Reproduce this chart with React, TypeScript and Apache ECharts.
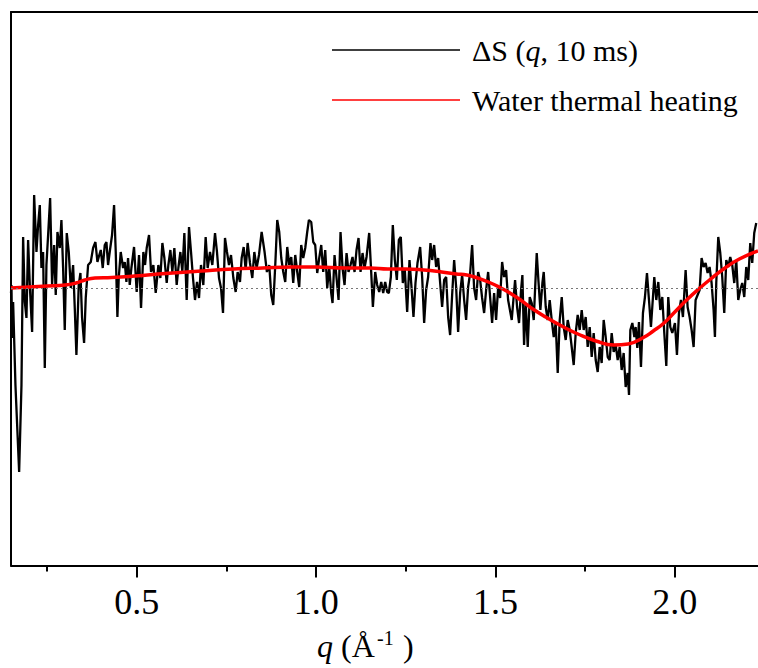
import React, { useEffect, useRef } from "react";
import * as echarts from "echarts";

const FONT = "'Liberation Serif', 'Times New Roman', serif";

// Measured ΔS(q, 10 ms) signal
const qSignal = [
  0.1490, 0.1503, 0.1521, 0.1549, 0.1614, 0.1717, 0.1782, 0.1828, 0.1875, 0.1921, 0.1967, 0.2014, 0.2079, 0.2135, 0.2200,
  0.2246, 0.2293, 0.2339, 0.2385, 0.2432, 0.2478, 0.2525, 0.2581, 0.2636, 0.2692, 0.2738, 0.2785, 0.2850, 0.2896,
  0.2943, 0.2989, 0.3045, 0.3101, 0.3157, 0.3222, 0.3268, 0.3314, 0.3379, 0.3426, 0.3472, 0.3528, 0.3574, 0.3640,
  0.3714, 0.3779, 0.3844, 0.3900, 0.3937, 0.3993, 0.4048, 0.4104, 0.4151, 0.4197, 0.4243, 0.4308, 0.4364, 0.4411,
  0.4457, 0.4494, 0.4550, 0.4615, 0.4662, 0.4708, 0.4754, 0.4801, 0.4847, 0.4921,
  0.4995, 0.5060, 0.5116, 0.5181, 0.5228, 0.5274, 0.5339, 0.5395, 0.5460, 0.5525, 0.5599, 0.5655, 0.5711, 0.5767,
  0.5832, 0.5878, 0.5934, 0.5989, 0.6045, 0.6110, 0.6157, 0.6212, 0.6268, 0.6324, 0.6389, 0.6454, 0.6510, 0.6565,
  0.6621, 0.6677, 0.6733, 0.6788, 0.6853, 0.6918, 0.6974, 0.7039, 0.7104, 0.7179, 0.7234, 0.7290, 0.7346, 0.7402,
  0.7457, 0.7513, 0.7569, 0.7625, 0.7690, 0.7755, 0.7810, 0.7875, 0.7922, 0.7978, 0.8033, 0.8089, 0.8154, 0.8219,
  0.8275, 0.8340, 0.8405, 0.8479,
  0.8561, 0.8626, 0.8691, 0.8747, 0.8803, 0.8859, 0.8914, 0.8970, 0.9026, 0.9082, 0.9137, 0.9193, 0.9249, 0.9305,
  0.9360, 0.9416, 0.9472, 0.9527, 0.9583, 0.9639, 0.9695, 0.9750, 0.9797, 0.9862, 0.9918, 0.9973, 1.0029, 1.0085,
  1.0141, 1.0196, 1.0252, 1.0308, 1.0364, 1.0419, 1.0456, 1.0512, 1.0568, 1.0624, 1.0679, 1.0735, 1.0791, 1.0847,
  1.0902, 1.0958, 1.1014, 1.1070, 1.1125, 1.1181, 1.1237, 1.1293, 1.1348, 1.1404, 1.1478, 1.1534, 1.1581, 1.1646,
  1.1701, 1.1757, 1.1813, 1.1869, 1.1924, 1.1980,
  1.2026, 1.2082, 1.2137, 1.2193, 1.2249, 1.2305, 1.2360, 1.2416, 1.2472, 1.2537, 1.2602, 1.2658, 1.2713, 1.2769,
  1.2825, 1.2899, 1.2955, 1.3011, 1.3066, 1.3122, 1.3187, 1.3234, 1.3289, 1.3345, 1.3401, 1.3457, 1.3512, 1.3568,
  1.3624, 1.3680, 1.3735, 1.3791, 1.3847, 1.3903, 1.3958, 1.4014, 1.4070, 1.4126, 1.4181, 1.4237, 1.4293, 1.4349,
  1.4404, 1.4460, 1.4516, 1.4572, 1.4627, 1.4683, 1.4739, 1.4795, 1.4850, 1.4906, 1.4962, 1.5017, 1.5073, 1.5129,
  1.5185, 1.5240, 1.5296, 1.5352,
  1.5453, 1.5499, 1.5546, 1.5602, 1.5657, 1.5713, 1.5750, 1.5797, 1.5843, 1.5899, 1.5955, 1.6010, 1.6066, 1.6103,
  1.6150, 1.6196, 1.6252, 1.6308, 1.6345, 1.6401, 1.6456, 1.6512, 1.6568, 1.6624, 1.6679, 1.6735, 1.6791, 1.6847,
  1.6902, 1.6958, 1.7014, 1.7070, 1.7125, 1.7181, 1.7237, 1.7292, 1.7348, 1.7404, 1.7460, 1.7515, 1.7571, 1.7627,
  1.7683, 1.7738, 1.7794, 1.7850, 1.7906, 1.7961, 1.8017, 1.8073, 1.8129, 1.8184, 1.8240, 1.8296, 1.8352, 1.8407,
  1.8463, 1.8519, 1.8574, 1.8630, 1.8686, 1.8723, 1.8760, 1.8816, 1.8872,
  1.8908, 1.8954, 1.9001, 1.9057, 1.9112, 1.9168, 1.9224, 1.9280, 1.9335, 1.9391, 1.9428, 1.9484, 1.9540, 1.9595,
  1.9651, 1.9707, 1.9763, 1.9818, 1.9874, 1.9930, 2.0004, 2.0060, 2.0116, 2.0171, 2.0227, 2.0302, 2.0357, 2.0413,
  2.0469, 2.0525, 2.0580, 2.0636, 2.0692, 2.0747, 2.0803, 2.0859, 2.0915, 2.0970, 2.1026, 2.1082, 2.1119, 2.1156,
  2.1212, 2.1268, 2.1323, 2.1379, 2.1435, 2.1491, 2.1546, 2.1602, 2.1658, 2.1714, 2.1769, 2.1825, 2.1881, 2.1937,
  2.1992, 2.2048, 2.2104, 2.2159, 2.2215, 2.2271,
];

const dsSignal = [
  -0.05, 0.03, -0.50, -0.14, -0.97, -1.84, -0.97, 0.51, -0.14, -0.30, 0.48, 0.03, -0.44, 0.93, 0.36,
  0.63, 0.83, 0.20, 0.36, -0.80, 0.23, 0.53, 0.90, 0.03, 0.43, -0.07, 0.56, 0.40, 0.68,
  0.20, -0.42, 0.55, 0.36, 0.00, 0.23, -0.20, -0.67, 0.03, 0.15, -0.30, -0.55, -0.10, 0.23,
  0.26, 0.40, 0.46, 0.26, 0.31, 0.38, 0.20, 0.43, 0.46, 0.23, 0.36, 0.53, 0.83, 0.36,
  -0.29, 0.10, 0.36, 0.20, 0.26, 0.06, 0.30, 0.03, 0.20, 0.41,
  -0.04, 0.33, -0.20, 0.36, 0.23, 0.40, 0.53, 0.16, 0.23, -0.05, 0.23, 0.10, 0.45, 0.30,
  0.05, 0.23, 0.38, 0.16, 0.40, 0.03, 0.20, 0.36, 0.16, 0.55, -0.12, 0.61, 0.36, 0.10,
  -0.12, 0.06, -0.10, 0.23, 0.03, 0.51, 0.20, 0.36, 0.23, 0.55, 0.36, 0.10, 0.00, -0.25,
  0.50, 0.36, 0.23, 0.33, 0.10, -0.04, 0.16, 0.06, 0.30, 0.41, 0.18, 0.45, 0.25, 0.10,
  0.36, 0.20, 0.33, 0.56,
  0.36, 0.16, 0.23, -0.07, -0.17, 0.23, 0.68, 0.56, 0.30, 0.16, 0.06, 0.41, 0.23, 0.31,
  0.05, 0.33, 0.16, 0.01, 0.43, 0.30, 0.40, 0.56, 0.68, 0.66, 0.46, 0.43, 0.15, 0.30,
  0.43, 0.16, 0.38, 0.00, 0.21, -0.05, -0.15, 0.33, 0.10, -0.12, 0.56, 0.20, 0.03, 0.35,
  0.16, 0.23, 0.31, 0.16, 0.38, 0.50, 0.16, 0.35, 0.20, 0.31, 0.55, 0.16, -0.19, 0.16,
  0.03, -0.04, 0.06, -0.05, 0.06, -0.04,
  -0.05, 0.11, 0.63, 0.28, 0.08, 0.48, 0.51, 0.05, 0.18, -0.24, 0.28, 0.01, -0.29, 0.05,
  0.25, 0.41, 0.11, -0.35, -0.02, 0.11, 0.45, 0.28, 0.43, 0.21, 0.30, 0.05, -0.19, 0.08,
  0.11, -0.29, -0.47, -0.07, 0.28, 0.01, -0.44, -0.05, 0.13, -0.12, -0.32, 0.01, 0.15, 0.43,
  0.00, -0.12, 0.16, 0.08, -0.10, -0.25, -0.02, 0.16, -0.09, -0.35, -0.05, -0.32, 0.00, -0.10,
  0.26, 0.11, 0.18, -0.12,
  -0.32, -0.12, 0.08, -0.19, -0.35, -0.02, 0.13, -0.57, -0.15, -0.59, -0.09, -0.15, -0.32, -0.02,
  0.35, 0.08, -0.22, 0.05, 0.16, -0.19, -0.32, -0.12, -0.32, -0.49, -0.35, -0.85, -0.32, -0.09,
  -0.39, -0.52, -0.32, -0.42, -0.59, -0.77, -0.45, -0.27, -0.42, -0.22, -0.42, -0.29, -0.59, -0.39,
  -0.69, -0.45, -0.72, -0.84, -0.59, -0.75, -0.32, -0.49, -0.69, -0.72, -0.45, -0.64, -0.57, -0.72,
  -0.59, -0.82, -0.65, -0.99, -0.85, -1.07, -0.42, -0.35, -0.49,
  -0.39, -0.60, -0.34, -0.79, -0.25, -0.09, 0.15, -0.12, -0.39, -0.09, 0.11, -0.12, 0.06, -0.22,
  -0.09, -0.45, -0.78, -0.09, -0.39, -0.45, -0.35, -0.67, -0.25, -0.12, -0.29, 0.18, -0.19, -0.29,
  -0.42, -0.59, -0.12, -0.07, -0.02, 0.30, 0.21, 0.25, 0.15, 0.21, 0.05, -0.22, -0.49, 0.05,
  0.51, 0.35, 0.11, -0.25, 0.28, 0.21, 0.31, 0.23, 0.05, 0.28, -0.12, -0.02, 0.05, -0.09,
  0.21, 0.08, 0.45, 0.25, 0.55, 0.65,
];

// Water thermal heating fit
const qFit = [
  0.149, 0.2, 0.25, 0.3, 0.33, 0.355, 0.383, 0.43, 0.494, 0.58, 0.68, 0.77, 0.85, 0.93, 1.0,
  1.08, 1.15, 1.2, 1.25, 1.3, 1.35, 1.39, 1.42, 1.45, 1.48, 1.51, 1.54, 1.57, 1.6, 1.64,
  1.69, 1.73, 1.78, 1.83, 1.87, 1.91, 1.94, 1.97, 2.0, 2.03, 2.07, 2.1, 2.14, 2.18, 2.232,
];
const dsFit = [
  0.0, 0.01, 0.02, 0.03, 0.05, 0.08, 0.1, 0.105, 0.12, 0.145, 0.17, 0.19, 0.2, 0.21, 0.21,
  0.2, 0.2, 0.19, 0.19, 0.18, 0.16, 0.14, 0.13, 0.1, 0.06, 0.01, -0.05, -0.12, -0.2, -0.29,
  -0.39, -0.46, -0.53, -0.57, -0.56, -0.5, -0.43, -0.35, -0.24, -0.13, 0.0, 0.09, 0.2, 0.29, 0.37,
];

const majorTicks = [0.5, 1.0, 1.5, 2.0];
const minorTicks = [0.25, 0.75, 1.25, 1.75];
const seriesNames = ["ΔS (q, 10 ms)", "Water thermal heating"];

const X_MIN = 0.149;
const X_MAX = 2.232;
const Y_MIN = -2.775;
const Y_MAX = 2.76;

const LEGEND_LINE = "path://M0 0H128V1.6H0Z";

export default function App() {
  const ref = useRef<HTMLDivElement>(null);

  useEffect(() => {
    if (!ref.current) return;
    const chart = echarts.init(ref.current, undefined, { renderer: "svg" });

    const signal = qSignal.map((q, i) => [q, dsSignal[i]]);
    const fit = qFit.map((q, i) => [q, dsFit[i]]);

    const baseAxis = {
      type: "value" as const,
      min: X_MIN,
      max: X_MAX,
      splitLine: { show: false },
    };

    chart.setOption({
      animation: false,
      backgroundColor: "#fff",
      grid: {
        left: 11,
        right: 0,
        top: 12,
        bottom: 102.5,
        containLabel: false,
        outerBoundsMode: "none",
      },
      legend: {
        data: seriesNames.map((n) => ({ name: n, icon: LEGEND_LINE })),
        orient: "vertical",
        left: 332,
        top: 35,
        padding: 0,
        itemWidth: 128,
        itemHeight: 30,
        itemGap: 20,
        selectedMode: false,
        formatter: (name: string) =>
          name === seriesNames[0]
            ? "{a|ΔS (}{i|q}{n|, 10 ms)}"
            : "{a|Water thermal heating}",
        textStyle: {
          fontFamily: FONT,
          fontSize: 30,
          color: "#000",
          rich: {
            a: { fontFamily: FONT, fontSize: 30, color: "#000", padding: [0, 0, 0, 7] },
            n: { fontFamily: FONT, fontSize: 30, color: "#000" },
            i: { fontFamily: FONT, fontSize: 30, color: "#000", fontStyle: "italic" },
          },
        },
      },
      xAxis: [
        {
          ...baseAxis,
          position: "bottom",
          axisLine: { show: true, onZero: false, lineStyle: { color: "#000", width: 2 } },
          axisTick: {
            show: true,
            inside: false,
            length: 12,
            customValues: majorTicks,
            lineStyle: { color: "#000", width: 2 },
          },
          axisLabel: {
            show: true,
            customValues: majorTicks,
            formatter: (v: number) => v.toFixed(1),
            fontFamily: FONT,
            fontSize: 36,
            color: "#000",
            margin: 18,
          },
        },
        {
          ...baseAxis,
          position: "bottom",
          axisLine: { show: false, onZero: false },
          axisTick: {
            show: true,
            inside: false,
            length: 6,
            customValues: minorTicks,
            lineStyle: { color: "#000", width: 2 },
          },
          axisLabel: { show: false },
        },
        {
          ...baseAxis,
          position: "top",
          axisLine: { show: true, onZero: false, lineStyle: { color: "#000", width: 2 } },
          axisTick: { show: false },
          axisLabel: { show: false },
        },
      ],
      yAxis: {
        type: "value",
        min: Y_MIN,
        max: Y_MAX,
        axisLine: { show: true, onZero: false, lineStyle: { color: "#000", width: 2 } },
        axisTick: { show: false },
        axisLabel: { show: false },
        splitLine: { show: false },
      },
      series: [
        {
          name: seriesNames[0],
          type: "line",
          data: signal,
          symbol: "none",
          showSymbol: false,
          lineStyle: { color: "#000", width: 2.3 },
          itemStyle: { color: "#000" },
          z: 2,
          markLine: {
            silent: true,
            symbol: "none",
            label: { show: false },
            lineStyle: { color: "#777", width: 1, type: [2, 3] },
            data: [{ yAxis: 0 }],
          },
        },
        {
          name: seriesNames[1],
          type: "line",
          data: fit,
          smooth: true,
          symbol: "none",
          showSymbol: false,
          lineStyle: { color: "#ff0000", width: 3.5 },
          itemStyle: { color: "#ff0000" },
          z: 3,
        },
      ],
      graphic: [
        {
          type: "text",
          left: 317,
          top: 630,
          style: { text: "q", fontFamily: FONT, fontSize: 32, fontStyle: "italic", fill: "#000" },
        },
        {
          type: "text",
          left: 333,
          top: 630,
          style: { text: " (Å", fontFamily: FONT, fontSize: 32, fill: "#000" },
        },
        {
          type: "text",
          left: 377,
          top: 628,
          style: { text: "-1", fontFamily: FONT, fontSize: 20, fill: "#000" },
        },
        {
          type: "text",
          left: 403,
          top: 630,
          style: { text: ")", fontFamily: FONT, fontSize: 32, fill: "#000" },
        },
      ],
    });

    return () => chart.dispose();
  }, []);

  return (
    <div
      ref={ref}
      style={{ position: "fixed", left: 0, top: 0, width: 758, height: 668 }}
    />
  );
}
